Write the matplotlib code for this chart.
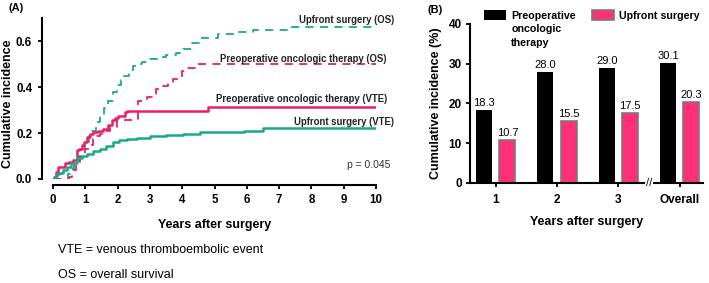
import numpy as np
from matplotlib import pyplot as plt

plt.rcParams['font.family'] = ['Liberation Sans', 'DejaVu Sans']

pink = '#ea1f6c'
green = '#1aa987'
bar_pink = '#ff2f78'

# panel A: cumulative incidence step curves (time in years, value)
upfront_vte_t = [0, 0.05, 0.12, 0.2, 0.3, 0.42, 0.55, 0.73, 0.9, 1.04, 1.25, 1.45, 1.65, 1.87,
                 2.05, 2.28, 2.6, 3.0, 3.5, 4.03, 4.55, 5.9, 6.5, 10]
upfront_vte_v = [0, 0.012, 0.02, 0.028, 0.04, 0.053, 0.07, 0.092, 0.1, 0.11, 0.12, 0.132, 0.145, 0.16,
                 0.17, 0.176, 0.18, 0.186, 0.19, 0.197, 0.204, 0.209, 0.222, 0.222]

preop_vte_t = [0, 0.03, 0.08, 0.16, 0.37, 0.5, 0.63, 0.73, 0.8, 0.89, 0.95, 1.04, 1.15, 1.25, 1.4,
               1.56, 1.71, 1.82, 1.92, 2.02, 2.23, 2.3, 4.8, 10]
preop_vte_v = [0, 0.01, 0.03, 0.053, 0.068, 0.075, 0.082, 0.125, 0.13, 0.147, 0.16, 0.183, 0.195, 0.204,
               0.21, 0.219, 0.233, 0.255, 0.265, 0.276, 0.29, 0.298, 0.315, 0.315]

upfront_os_t = [0, 0.45, 0.55, 0.65, 0.8, 0.9, 1.0, 1.1, 1.2, 1.33, 1.45, 1.58, 1.7, 1.85, 1.97, 2.1,
                2.2, 2.35, 2.48, 2.6, 2.75, 3.0, 3.25, 3.5, 3.8, 4.03, 4.3, 4.55, 5.1, 5.6, 6.2, 6.7,
                7.4, 10]
upfront_os_v = [0, 0.02, 0.045, 0.07, 0.1, 0.13, 0.16, 0.185, 0.21, 0.25, 0.28, 0.31, 0.34, 0.38, 0.41,
                0.43, 0.45, 0.475, 0.49, 0.5, 0.51, 0.52, 0.53, 0.54, 0.55, 0.565, 0.59, 0.615, 0.63,
                0.64, 0.647, 0.65, 0.66, 0.665]

preop_os_t = [0, 0.5, 0.6, 0.7, 0.84, 0.92, 1.0, 1.12, 1.25, 1.35, 1.45, 1.6, 1.76, 1.97, 2.64, 2.9,
              3.05, 3.2, 3.4, 3.55, 3.72, 3.98, 4.13, 4.44, 10]
preop_os_v = [0, 0.01, 0.04, 0.07, 0.096, 0.11, 0.13, 0.15, 0.175, 0.185, 0.197, 0.21, 0.226, 0.255,
              0.34, 0.355, 0.37, 0.39, 0.405, 0.42, 0.435, 0.47, 0.485, 0.5, 0.5]

# panel B: cumulative incidence (%)
periods = ['1', '2', '3', 'Overall']
preop_pct = [18.3, 28.0, 29.0, 30.1]
upfront_pct = [10.7, 15.5, 17.5, 20.3]

fig = plt.figure(figsize=(7.09, 2.83), dpi=100)

# ---------------- panel A
ax = fig.add_axes([0.0748, 0.3675, 0.4555, 0.5685])
ax.plot(upfront_os_t, upfront_os_v, drawstyle='steps-post', color=green, lw=1.3, dashes=(4.5, 3.5))
ax.plot(preop_os_t, preop_os_v, drawstyle='steps-post', color=pink, lw=1.3, dashes=(4.5, 3.5))
ax.plot(preop_vte_t, preop_vte_v, drawstyle='steps-post', color=pink, lw=1.8)
ax.plot(upfront_vte_t, upfront_vte_v, drawstyle='steps-post', color=green, lw=1.8)
ax.set_xlim(0, 10)
ax.set_ylim(0, 0.7)
ax.set_xticks(range(11))
ax.set_yticks([0, 0.2, 0.4, 0.6])
ax.set_yticklabels(['0.0', '0.2', '0.4', '0.6'], rotation=90, va='center')
for s in ['top', 'right']:
    ax.spines[s].set_visible(False)
ax.spines['left'].set_position(('outward', 8))
ax.spines['bottom'].set_position(('outward', 4))
for s in ['left', 'bottom']:
    ax.spines[s].set_linewidth(1.5)
ax.tick_params(width=1.3, length=3, labelsize=8.3)
ax.tick_params(axis='x', pad=4)
ax.tick_params(axis='y', pad=4)
for lab in ax.get_xticklabels() + ax.get_yticklabels():
    lab.set_fontweight('bold')
ax.set_xlabel('Years after surgery', fontsize=9, fontweight='bold', labelpad=9)
ax.set_ylabel('Cumulative incidence', fontsize=9, fontweight='bold')
ax.yaxis.set_label_coords(-0.12, 0.47)

lab_kw = dict(fontsize=6.9, fontweight='bold', ha='right', va='center', color='#222222')
ax.text(10.56, 0.69, 'Upfront surgery (OS)', **lab_kw)
ax.text(10.34, 0.523, 'Preoperative oncologic therapy (OS)', **lab_kw)
ax.text(10.34, 0.346, 'Preoperative oncologic therapy (VTE)', **lab_kw)
ax.text(10.56, 0.246, 'Upfront surgery (VTE)', **lab_kw)
ax.text(10.46, 0.06, 'p = 0.045', fontsize=7.5, ha='right', va='center', color='#333333')
for t in ax.texts:
    t.set_clip_on(False)

fig.text(0.012, 0.972, '(A)', fontsize=8, fontweight='bold', va='center')
fig.text(0.082, 0.118, 'VTE = venous thromboembolic event', fontsize=9, va='center')
fig.text(0.082, 0.028, 'OS = overall survival', fontsize=9, va='center')

# ---------------- panel B
bx = fig.add_axes([0.663, 0.3534, 0.3285, 0.5618])
pos = np.arange(len(periods))
w = 0.26
b1 = bx.bar(pos - 0.19, preop_pct, w, color='black', label='Preoperative')
b2 = bx.bar(pos + 0.19, upfront_pct, w, color=bar_pink, edgecolor='#7a7a7a', lw=1.2,
            label='Upfront surgery')
bx.bar_label(b1, fmt='%.1f', padding=1.5, fontsize=8)
bx.bar_label(b2, fmt='%.1f', padding=1.5, fontsize=8)
bx.set_xlim(-0.42, 3.38)
bx.set_ylim(0, 40)
bx.set_yticks([0, 10, 20, 30, 40])
bx.set_xticks(pos)
bx.set_xticklabels(periods)
for s in ['top', 'right']:
    bx.spines[s].set_visible(False)
for s in ['left', 'bottom']:
    bx.spines[s].set_linewidth(1.5)
bx.tick_params(width=1.3, length=3, labelsize=8.5)
bx.tick_params(axis='x', pad=5)
bx.tick_params(axis='y', pad=3)
for lab in bx.get_xticklabels() + bx.get_yticklabels():
    lab.set_fontweight('bold')
bx.set_xlabel('Years after surgery', fontsize=9, fontweight='bold', labelpad=7)
bx.set_ylabel('Cumulative incidence (%)', fontsize=9, fontweight='bold', labelpad=5)
# axis break
bx.text(2.5, 0, '//', transform=bx.get_xaxis_transform(), ha='center', va='center',
        fontsize=8, bbox=dict(facecolor='white', edgecolor='none', pad=0.5), clip_on=False, zorder=5)

leg = bx.legend(handles=[b1, b2], ncol=2, loc='upper left', bbox_to_anchor=(0.06, 1.085),
                frameon=False, prop=dict(size=7.7, weight='bold'), handlelength=2.05,
                handleheight=0.95, handletextpad=0.5, columnspacing=1.5, borderpad=0,
                borderaxespad=0)

# rest of the first legend entry, wrapped under "Preoperative"
fig.canvas.draw()
bb = leg.get_texts()[0].get_window_extent().transformed(fig.transFigure.inverted())
fig.text(bb.x0, bb.y0 - 0.012, 'oncologic\ntherapy', fontsize=7.7, fontweight='bold',
         va='top', ha='left', linespacing=1.45)

fig.text(0.603, 0.965, '(B)', fontsize=8, fontweight='bold', va='center')

fig.savefig('out.png', dpi=100)
